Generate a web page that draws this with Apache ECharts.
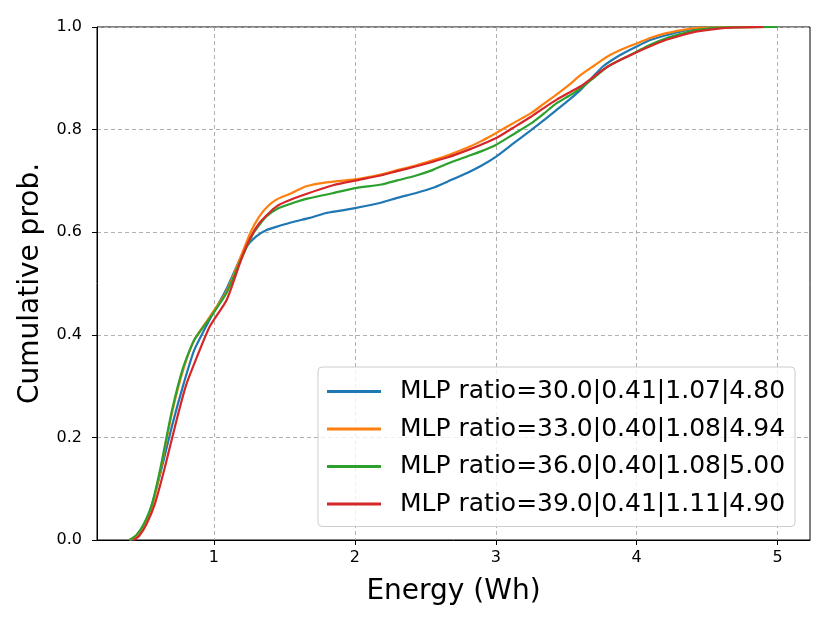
<!DOCTYPE html>
<html><head><meta charset="utf-8">
<script src="https://cdn.jsdelivr.net/npm/echarts@6/dist/echarts.min.js"></script>
<style>html,body{margin:0;padding:0;background:#fff}#c{width:830px;height:623px}</style>
</head><body><div id="c"></div>
<script>
const seriesNames = ["MLP ratio=30.0|0.41|1.07|4.80","MLP ratio=33.0|0.40|1.08|4.94","MLP ratio=36.0|0.40|1.08|5.00","MLP ratio=39.0|0.41|1.11|4.90"];
const colors = ["#1f77b4","#ff7f0e","#2ca02c","#d62728"];
const xTicks = [1,2,3,4,5];
const yTicks = [0,0.2,0.4,0.6,0.8,1.0];

const blueX = [0.41,0.45,0.50,0.55,0.62,0.70,0.78,0.86,0.97,1.09,1.18,1.23,1.30,1.37,1.46,1.56,1.68,1.79,1.90,2.0,2.19,2.30,2.43,2.55,2.66,2.80,2.90,3.0,3.12,3.25,3.34,3.43,3.52,3.60,3.68,3.76,3.88,4.0,4.10,4.21,4.32,4.42,4.54,4.80];
const blueP = [0,0.005,0.025,0.06,0.13,0.22,0.30,0.37,0.43,0.49,0.545,0.572,0.592,0.604,0.612,0.620,0.628,0.637,0.642,0.647,0.658,0.667,0.676,0.686,0.699,0.716,0.730,0.747,0.772,0.799,0.818,0.838,0.858,0.877,0.900,0.923,0.945,0.962,0.975,0.984,0.992,0.997,0.999,1.0];

const orangeX = [0.40,0.45,0.50,0.56,0.62,0.70,0.78,0.86,0.97,1.09,1.18,1.26,1.32,1.38,1.44,1.55,1.65,1.80,2.0,2.19,2.30,2.43,2.55,2.66,2.80,2.90,3.0,3.12,3.25,3.34,3.43,3.52,3.60,3.70,3.79,3.90,4.0,4.10,4.21,4.32,4.42,4.60,4.94];
const orangeP = [0,0.008,0.028,0.065,0.135,0.245,0.33,0.39,0.435,0.485,0.545,0.600,0.630,0.650,0.663,0.676,0.689,0.697,0.703,0.713,0.721,0.730,0.740,0.750,0.765,0.778,0.793,0.812,0.832,0.850,0.868,0.887,0.906,0.925,0.942,0.957,0.968,0.979,0.988,0.994,0.998,0.9995,1.0];

const greenX = [0.40,0.45,0.50,0.56,0.62,0.70,0.78,0.86,0.97,1.09,1.18,1.28,1.37,1.46,1.57,1.67,1.84,2.0,2.19,2.30,2.43,2.55,2.66,2.80,2.90,3.0,3.12,3.25,3.34,3.43,3.52,3.60,3.70,3.79,3.90,4.0,4.10,4.21,4.32,4.42,4.60,5.0];
const greenP = [0,0.01,0.03,0.07,0.14,0.25,0.335,0.39,0.432,0.482,0.539,0.598,0.630,0.647,0.658,0.666,0.676,0.686,0.693,0.701,0.710,0.721,0.734,0.748,0.758,0.770,0.790,0.812,0.831,0.851,0.866,0.880,0.902,0.922,0.938,0.952,0.966,0.978,0.987,0.994,0.999,1.0];

const redX = [0.43,0.47,0.52,0.58,0.65,0.735,0.80,0.852,0.97,1.09,1.20,1.26,1.32,1.40,1.46,1.57,1.67,1.85,2.03,2.19,2.30,2.43,2.55,2.66,2.80,2.90,3.0,3.12,3.25,3.34,3.43,3.52,3.60,3.70,3.79,3.90,4.0,4.10,4.21,4.32,4.42,4.55,4.70,4.90];
const redP = [0,0.008,0.03,0.07,0.14,0.234,0.30,0.338,0.416,0.468,0.552,0.590,0.617,0.640,0.653,0.666,0.676,0.692,0.702,0.711,0.719,0.728,0.737,0.746,0.760,0.771,0.783,0.803,0.825,0.842,0.858,0.872,0.884,0.904,0.922,0.938,0.951,0.963,0.975,0.984,0.991,0.996,0.999,1.0];

const xs = [blueX, orangeX, greenX, redX];
const ps = [blueP, orangeP, greenP, redP];

const chart = echarts.init(document.getElementById('c'), null, {renderer:'canvas'});
const font = 'DejaVu Sans';
const gridLine = {show:true, lineStyle:{color:'#b0b0b0', width:1, type:[4,3]}};
chart.setOption({
  animation:false,
  color: colors,
  textStyle:{fontFamily:font},
  grid:{left:97, right:20, top:27, bottom:83, show:true, borderColor:'#000', borderWidth:1},
  xAxis:{type:'value', min:0.17, max:5.23,
    name:'Energy (Wh)', nameLocation:'middle', nameGap:38,
    nameTextStyle:{fontSize:28, color:'#000', fontFamily:font},
    axisLine:{show:true, onZero:false, lineStyle:{color:'#000', width:1}},
    axisTick:{show:true, length:5, lineStyle:{color:'#000'}, customValues:xTicks},
    axisLabel:{fontSize:16, color:'#000', margin:10, customValues:xTicks, fontFamily:font},
    splitLine:gridLine},
  yAxis:{type:'value', min:0, max:1, interval:0.2,
    name:'Cumulative prob.', nameLocation:'middle', nameGap:52,
    nameTextStyle:{fontSize:28, color:'#000', fontFamily:font},
    axisLine:{show:true, lineStyle:{color:'#000', width:1}},
    axisTick:{show:true, length:5, lineStyle:{color:'#000'}},
    axisLabel:{fontSize:16, color:'#000', margin:15, formatter:v=>v.toFixed(1), fontFamily:font},
    splitLine:gridLine},
  legend:{orient:'vertical', left:318, top:367, itemWidth:54, itemHeight:3, icon:'rect', itemGap:12.5,
    padding:[12,10,10,9], borderColor:'#cccccc', borderWidth:1, borderRadius:4, backgroundColor:'rgba(255,255,255,0.8)',
    textStyle:{fontSize:25, color:'#000', fontFamily:font, padding:[0,0,0,14]},
    data: seriesNames},
  series: seriesNames.map((n,i)=>({
    name:n, type:'line', showSymbol:false, symbol:'none', smooth:0.2,
    lineStyle:{width:2.2, color:colors[i]}, itemStyle:{color:colors[i]},
    data: xs[i].map((x,j)=>[x, ps[i][j]])
  }))
});
</script></body></html>
